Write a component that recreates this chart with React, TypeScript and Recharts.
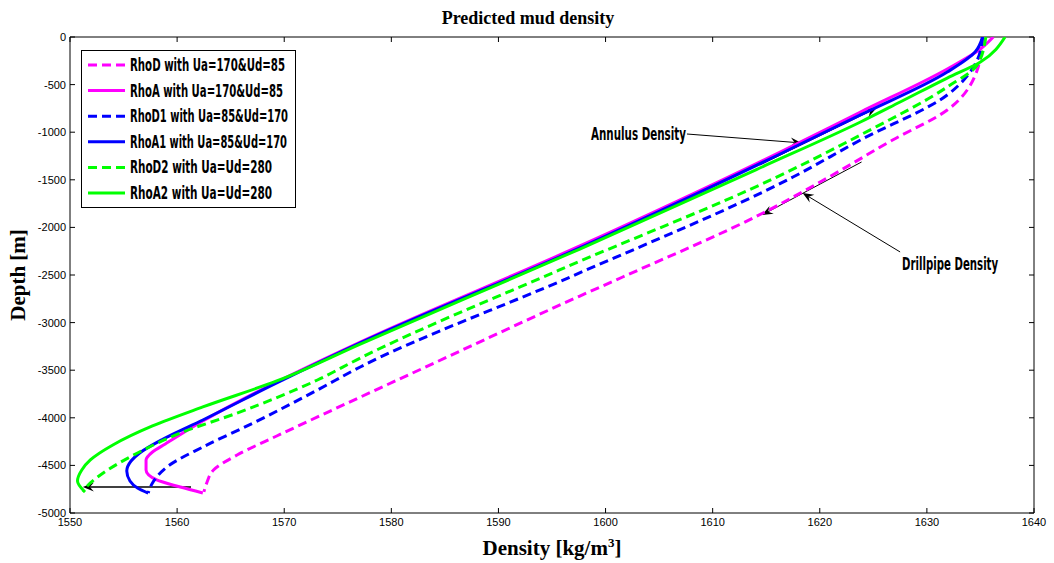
import React from 'react';
import { ScatterChart, Scatter, XAxis, YAxis, ReferenceLine, Legend } from 'recharts';

type Pt = [number, number];

// [density kg/m3, depth m]
const rhoD: Pt[] = [
  [1635.4, 0], [1635.0, -210], [1634.7, -347], [1631.9, -767], [1626.8, -1082], [1620.7, -1481],
  [1614.7, -1849], [1601.6, -2521], [1597.6, -2721], [1583.0, -3477], [1573.3, -3981], [1569.3, -4191],
  [1565.6, -4391], [1563.4, -4548], [1562.8, -4674], [1562.5, -4779],
];
const rhoA: Pt[] = [
  [1562.4, -4790], [1560.3, -4727], [1558.1, -4653], [1557.1, -4548], [1557.1, -4443], [1557.7, -4359],
  [1558.9, -4275], [1562.4, -4034], [1569.3, -3624], [1577.1, -3204], [1597.6, -2195], [1616.3, -1208],
  [1623.8, -788], [1631.9, -336], [1635.0, -126], [1636.2, 0],
];
const rhoD1: Pt[] = [
  [1635.2, 0], [1634.7, -242], [1631.9, -609], [1623.8, -1082], [1617.5, -1471], [1596.7, -2521],
  [1577.1, -3466], [1573.1, -3708], [1567.1, -4055], [1562.4, -4307], [1559.3, -4496], [1557.7, -4685],
  [1557.3, -4790],
];
const rhoA1: Pt[] = [
  [1557.3, -4790], [1556.3, -4737], [1555.6, -4664], [1555.3, -4559], [1555.7, -4454], [1556.5, -4370],
  [1558.7, -4223], [1562.4, -4023], [1569.3, -3634], [1577.1, -3214], [1597.6, -2216], [1616.3, -1229],
  [1623.8, -819], [1631.9, -368], [1634.5, -158], [1635.2, 0],
];
const rhoD2: Pt[] = [
  [1635.5, 0], [1634.7, -294], [1631.9, -525], [1623.8, -1029], [1615.8, -1481], [1595.7, -2447],
  [1577.1, -3372], [1573.1, -3603], [1565.6, -3950], [1560.3, -4160], [1556.3, -4370], [1553.1, -4580],
  [1551.7, -4706], [1551.2, -4779],
];
const rhoA2: Pt[] = [
  [1551.4, -4779], [1550.7, -4664], [1551.1, -4548], [1551.9, -4443], [1554.0, -4286], [1557.7, -4086],
  [1562.4, -3886], [1569.3, -3613], [1577.1, -3225], [1597.6, -2227], [1614.4, -1376], [1623.8, -893],
  [1627.5, -683], [1631.9, -431], [1635.0, -263], [1637.3, 0],
];

const seriesNames = [
  'RhoD with Ua=170&Ud=85',
  'RhoA with Ua=170&Ud=85',
  'RhoD1 with Ua=85&Ud=170',
  'RhoA1 with Ua=85&Ud=170',
  'RhoD2 with Ua=Ud=280',
  'RhoA2 with Ua=Ud=280',
];
const seriesColors = ['#ff00ff', '#ff00ff', '#0000ff', '#0000ff', '#00ff00', '#00ff00'];
const seriesDashed = [true, false, true, false, true, false];
const seriesData = [rhoD, rhoA, rhoD1, rhoA1, rhoD2, rhoA2];

const densityTicks = [1550, 1560, 1570, 1580, 1590, 1600, 1610, 1620, 1630, 1640];
const depthTicks = [-5000, -4500, -4000, -3500, -3000, -2500, -2000, -1500, -1000, -500, 0];

const annotationLabels = ['Annulus Density', 'Drillpipe Density'];
const annulusLabelArrow: Pt[] = [[1607.6, -1019], [1618.3, -1113]];
const annulusFlowArrow: Pt[] = [[1614.4, -1345], [1625.3, -746]];
const drillpipeLabelArrow: Pt[] = [[1627.5, -2258], [1618.4, -1639]];
const drillpipeFlowArrow: Pt[] = [[1623.9, -1313], [1614.6, -1870]];
const bottomArrow: Pt[] = [[1561.3, -4727], [1551.2, -4727]];

const W = 1054;
const H = 563;
const SANS = '"Liberation Sans", Arial, sans-serif';
const SERIF = '"Liberation Serif", "Times New Roman", serif';
const NARROW = '"Liberation Sans Narrow", "Arial Narrow", "DejaVu Sans Condensed", sans-serif';

const toRows = (pts: Pt[]) => pts.map(([x, y]) => ({ x, y }));
const toSeg = (pts: Pt[]) => pts.map(([x, y]) => ({ x, y }));

const NoShape = () => <g />;

const BottomTick = (p: any) => (
  <g>
    <line x1={p.x} y1={p.y} x2={p.x} y2={p.y - 5} stroke="#000" />
    <text x={p.x} y={p.y + 13} textAnchor="middle" fontSize={11} fontFamily={SANS} fill="#000">
      {p.payload.value}
    </text>
  </g>
);
const TopTick = (p: any) => <line x1={p.x} y1={p.y} x2={p.x} y2={p.y + 5} stroke="#000" />;
const LeftTick = (p: any) => (
  <g>
    <line x1={p.x} y1={p.y} x2={p.x + 5} y2={p.y} stroke="#000" />
    <text x={p.x - 4} y={p.y + 4} textAnchor="end" fontSize={11} fontFamily={SANS} fill="#000">
      {p.payload.value}
    </text>
  </g>
);
const RightTick = (p: any) => <line x1={p.x} y1={p.y} x2={p.x - 5} y2={p.y} stroke="#000" />;

const TitleLabel = (p: any) => {
  const vb = p.viewBox || { x: 70, y: 27, width: 964, height: 10 };
  return (
    <text x={vb.x + vb.width / 2 - 24} y={vb.y + vb.height - 13} textAnchor="middle" fontSize={18}
      fontWeight="bold" fontFamily={SERIF} fill="#000">
      Predicted mud density
    </text>
  );
};
const XLabel = (p: any) => {
  const vb = p.viewBox || { x: 70, y: 513, width: 964, height: 30 };
  return (
    <text x={vb.x + vb.width / 2} y={vb.y + 42} textAnchor="middle" fontSize={21} fontWeight="bold"
      fontFamily={SERIF} fill="#000">
      Density [kg/m<tspan dy={-8} fontSize={13}>3</tspan><tspan dy={8}>]</tspan>
    </text>
  );
};
const YLabel = (p: any) => {
  const vb = p.viewBox || { x: 20, y: 37, width: 50, height: 476 };
  const cx = vb.x + 5;
  const cy = vb.y + vb.height / 2;
  return (
    <text x={cx} y={cy} transform={`rotate(-90, ${cx}, ${cy})`} textAnchor="middle" fontSize={21}
      fontWeight="bold" fontFamily={SERIF} fill="#000">
      Depth [m]
    </text>
  );
};

type ArrowOpts = {
  sw?: number;
  text?: string;
  textLength?: number;
  anchor?: 'start' | 'end';
  tdx?: number;
  tdy?: number;
};
const makeArrow = (o: ArrowOpts) => (p: any) => {
  const { x1, y1, x2, y2 } = p;
  const vx = x2 - x1;
  const vy = y2 - y1;
  const len = Math.hypot(vx, vy) || 1;
  const ux = vx / len;
  const uy = vy / len;
  const nx = -uy;
  const ny = ux;
  const L = 11;
  const Wd = 4.5;
  const N = 7;
  const pts = [
    [x2, y2],
    [x2 - L * ux + Wd * nx, y2 - L * uy + Wd * ny],
    [x2 - N * ux, y2 - N * uy],
    [x2 - L * ux - Wd * nx, y2 - L * uy - Wd * ny],
  ]
    .map((q) => q.join(','))
    .join(' ');
  return (
    <g>
      <line x1={x1} y1={y1} x2={x2 - N * ux} y2={y2 - N * uy} stroke="#000" strokeWidth={o.sw || 1} />
      <polygon points={pts} fill="#000" />
      {o.text ? (
        <text x={x1 + (o.tdx || 0)} y={y1 + (o.tdy || 0)} textAnchor={o.anchor || 'start'} fontSize={18}
          fontWeight="bold" fontFamily={NARROW} fill="#000" textLength={o.textLength}
          lengthAdjust="spacingAndGlyphs">
          {o.text}
        </text>
      ) : null}
    </g>
  );
};

const legendTextLengths = [155, 153, 158, 157, 142, 142];
const LegendBox = () => (
  <svg width={330} height={170} style={{ display: 'block', overflow: 'visible' }}>
    <rect x={0.5} y={0.5} width={214} height={157} fill="#fff" stroke="#000" />
    {seriesNames.map((name, i) => {
      const cy = 15 + i * 25.6;
      return (
        <g key={name}>
          <line x1={7} y1={cy} x2={44} y2={cy} stroke={seriesColors[i]} strokeWidth={3}
            strokeDasharray={seriesDashed[i] ? '9 5' : undefined} />
          <text x={49} y={cy + 6} fontSize={17} fontWeight="bold" fontFamily={NARROW} fill="#000"
            textLength={legendTextLengths[i]} lengthAdjust="spacingAndGlyphs">
            {name}
          </text>
        </g>
      );
    })}
  </svg>
);

export default function App() {
  return (
    <div style={{ position: 'absolute', left: 0, top: 0, width: W, height: H, background: '#fff' }}>
      <ScatterChart width={W} height={H} margin={{ top: 27, right: 10, bottom: 20, left: 20 }}>
        <XAxis xAxisId="bottom" type="number" dataKey="x" domain={[1550, 1640]} allowDataOverflow
          ticks={densityTicks} interval={0} tickSize={0} tickMargin={0} tickLine={false} tick={BottomTick}
          axisLine={{ stroke: '#000' }} height={30} label={XLabel} />
        <XAxis xAxisId="top" orientation="top" type="number" dataKey="x" domain={[1550, 1640]}
          allowDataOverflow ticks={densityTicks} interval={0} tickSize={0} tickMargin={0} tickLine={false}
          tick={TopTick} axisLine={{ stroke: '#000' }} height={10} label={TitleLabel} />
        <YAxis yAxisId="left" type="number" dataKey="y" domain={[-5000, 0]} allowDataOverflow
          ticks={depthTicks} interval={0} tickSize={0} tickMargin={0} tickLine={false} tick={LeftTick}
          axisLine={{ stroke: '#000' }} width={50} label={YLabel} />
        <YAxis yAxisId="right" orientation="right" type="number" dataKey="y" domain={[-5000, 0]}
          allowDataOverflow ticks={depthTicks} interval={0} tickSize={0} tickMargin={0} tickLine={false}
          tick={RightTick} axisLine={{ stroke: '#000' }} width={10} />
        {seriesData.map((d, i) => (
          <Scatter key={seriesNames[i]} name={seriesNames[i]} xAxisId="bottom" yAxisId="left" data={toRows(d)}
            fill={seriesColors[i]} shape={NoShape} lineType="joint" lineJointType="monotoneY"
            isAnimationActive={false}
            line={{
              stroke: seriesColors[i],
              strokeWidth: 3,
              strokeDasharray: seriesDashed[i] ? '9 5' : undefined,
            }} />
        ))}
        <Scatter xAxisId="top" yAxisId="right" data={toRows(rhoA2)} shape={NoShape} isAnimationActive={false}
          legendType="none" />
        <ReferenceLine xAxisId="bottom" yAxisId="left" segment={toSeg(annulusLabelArrow)}
          shape={makeArrow({ text: annotationLabels[0], textLength: 95, anchor: 'end', tdx: -1, tdy: 6 })} />
        <ReferenceLine xAxisId="bottom" yAxisId="left" segment={toSeg(annulusFlowArrow)} shape={makeArrow({})} />
        <ReferenceLine xAxisId="bottom" yAxisId="left" segment={toSeg(drillpipeLabelArrow)}
          shape={makeArrow({ text: annotationLabels[1], textLength: 96, anchor: 'start', tdx: 2, tdy: 18 })} />
        <ReferenceLine xAxisId="bottom" yAxisId="left" segment={toSeg(drillpipeFlowArrow)} shape={makeArrow({})} />
        <ReferenceLine xAxisId="bottom" yAxisId="left" segment={toSeg(bottomArrow)} shape={makeArrow({ sw: 1.6 })} />
        <Legend layout="horizontal" verticalAlign="middle" align="center"
          wrapperStyle={{ left: 81, top: 50, width: 330, height: 170 }} content={() => <LegendBox />} />
      </ScatterChart>
    </div>
  );
}
